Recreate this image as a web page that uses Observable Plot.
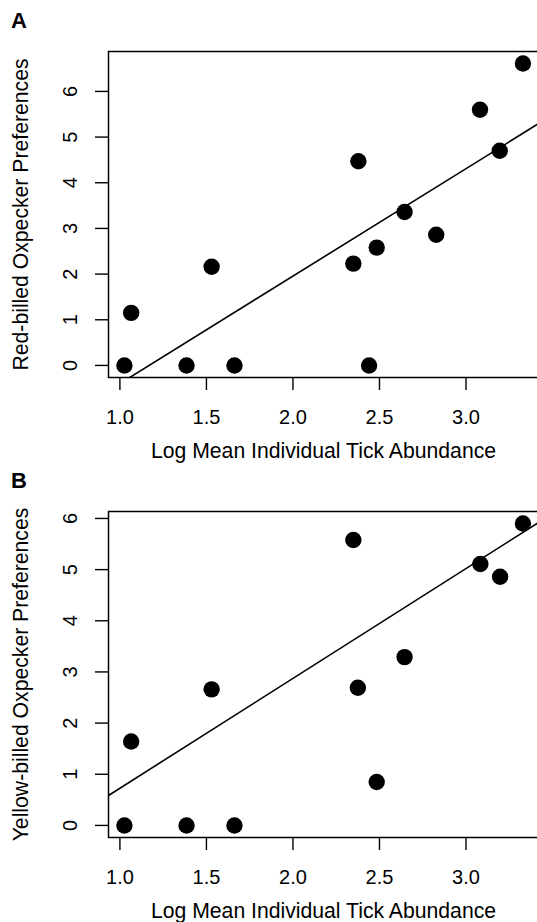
<!DOCTYPE html>
<html>
<head>
<meta charset="utf-8">
<script src="https://cdn.jsdelivr.net/npm/d3@7"></script>
<script src="https://cdn.jsdelivr.net/npm/@observablehq/plot@0.6"></script>
<style>
  html, body { margin: 0; padding: 0; background: #fff; }
  body { width: 537px; height: 922px; overflow: hidden; position: relative; font-family: "Liberation Sans", Arial, Helvetica, sans-serif; }
  #root { position: relative; width: 537px; height: 922px; overflow: hidden; }
  .panel { position: absolute; left: 0; width: 540px; }
  .letter { position: absolute; left: 11px; top: 8px; font-size: 22px; font-weight: bold; color: #000; line-height: 26px; }
  .panel svg { display: block; overflow: visible !important; background: transparent !important; max-width: none !important; }
</style>
</head>
<body>
<div id="root"></div>
<script>
// ---- data ----
const xTitle = "Log Mean Individual Tick Abundance";
const xTicks = [1.0, 1.5, 2.0, 2.5, 3.0];
const xDomain = [0.934, 3.419];

// Panel A: Red-billed
const xA = [1.026, 1.065, 1.385, 1.530, 1.662, 2.349, 2.378, 2.440, 2.484, 2.645, 2.828, 3.081, 3.195, 3.329];
const yA = [0, 1.15, 0, 2.16, 0, 2.23, 4.47, 0, 2.58, 3.36, 2.86, 5.60, 4.70, 6.61];
const yTicksA = [0, 1, 2, 3, 4, 5, 6];
const yDomainA = [-0.264, 6.874];
const fitA = [2.353, -2.75]; // slope, intercept

// Panel B: Yellow-billed
const xB = [1.026, 1.065, 1.385, 1.530, 1.662, 2.349, 2.375, 2.484, 2.645, 3.083, 3.197, 3.329];
const yB = [0, 1.64, 0, 2.66, 0, 5.58, 2.69, 0.85, 3.29, 5.11, 4.86, 5.90];
const yTicksB = [0, 1, 2, 3, 4, 5, 6];
const yDomainB = [-0.236, 6.136];
const fitB = [2.147, -1.42];

const panels = [
  {letter: "A", yTitle: "Red-billed Oxpecker Preferences", xs: xA, ys: yA, yTicks: yTicksA, yDomain: yDomainA, fit: fitA, top: 0, height: 460},
  {letter: "B", yTitle: "Yellow-billed Oxpecker Preferences", xs: xB, ys: yB, yTicks: yTicksB, yDomain: yDomainB, fit: fitB, top: 460, height: 462}
];

const FONT = "Liberation Sans, Arial, Helvetica, sans-serif";
const root = document.getElementById("root");

for (const p of panels) {
  const pts = p.xs.map((x, i) => ({x, y: p.ys[i]}));
  const line = xDomain.map(x => ({x, y: p.fit[0] * x + p.fit[1]}));
  const chart = Plot.plot({
    width: 540,
    height: p.height,
    marginLeft: 108,
    marginRight: 2,
    marginTop: 51,
    marginBottom: p.height - 377,
    style: {fontFamily: FONT, background: "transparent", color: "#000", overflow: "visible"},
    x: {domain: xDomain},
    y: {domain: p.yDomain},
    marks: [
      Plot.axisX({ticks: xTicks, tickSize: 13, tickFormat: () => "", label: null, strokeWidth: 1.4}),
      Plot.axisY({ticks: p.yTicks, tickSize: 13, tickFormat: () => "", label: null, strokeWidth: 1.4}),
      Plot.text(xTicks, {x: d => d, text: d => d3.format(".1f")(d), frameAnchor: "bottom", dy: 40, fontSize: 20, fill: "#000", lineAnchor: "middle", textAnchor: "middle"}),
      Plot.text(p.yTicks, {y: d => d, text: d => String(d), frameAnchor: "left", dx: -38, rotate: -90, fontSize: 20, fill: "#000", lineAnchor: "middle", textAnchor: "middle"}),
      Plot.text([xTitle], {frameAnchor: "bottom", dy: 74, fontSize: 21.2, fill: "#000", lineAnchor: "middle", textAnchor: "middle"}),
      Plot.text([p.yTitle], {frameAnchor: "left", dx: -87, rotate: -90, fontSize: 21.2, fill: "#000", lineAnchor: "middle", textAnchor: "middle"}),
      Plot.line(line, {x: "x", y: "y", stroke: "#000", strokeWidth: 1.6, clip: true}),
      Plot.dot(pts, {x: "x", y: "y", r: 8.2, fill: "#000", stroke: "none"}),
      Plot.frame({stroke: "#000", strokeWidth: 1.5})
    ]
  });
  const div = document.createElement("div");
  div.className = "panel";
  div.style.top = p.top + "px";
  div.style.height = p.height + "px";
  const lab = document.createElement("div");
  lab.className = "letter";
  lab.textContent = p.letter;
  div.appendChild(chart);
  div.appendChild(lab);
  root.appendChild(div);
}
</script>
</body>
</html>
